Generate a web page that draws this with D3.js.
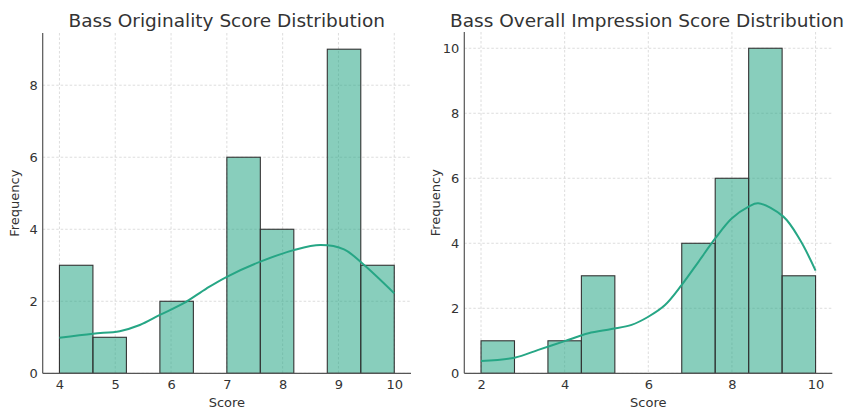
<!DOCTYPE html>
<html>
<head>
<meta charset="utf-8">
<script src="https://cdn.jsdelivr.net/npm/d3@7"></script>
<style>
  body { margin: 0; background: #fff; }
  svg { font-family: "DejaVu Sans", sans-serif; }
  .grid line { stroke: #d4d4d4; stroke-dasharray: 2.5,2; stroke-width: 0.8; }
  .axis text { fill: #333; font-size: 13px; }
  .axis path { stroke: #555; stroke-width: 1.2; }
</style>
</head>
<body>
<svg width="850" height="410"></svg>
<script>
// left panel: originality
var origEdges = [4, 4.6, 5.2, 5.8, 6.4, 7.0, 7.6, 8.2, 8.8, 9.4, 10];
var origCounts = [3, 1, 0, 2, 0, 6, 4, 0, 9, 3];
var origKdeX = [4.0, 4.6, 5.08, 5.44, 5.8, 6.22, 6.64, 7.0, 7.6, 8.2, 8.68, 9.1, 9.45, 10.0];
var origKdeY = [0.99, 1.1, 1.17, 1.34, 1.62, 1.94, 2.36, 2.68, 3.1, 3.42, 3.56, 3.44, 3.02, 2.22];
var origXTicks = [4, 5, 6, 7, 8, 9, 10];
var origYTicks = [0, 2, 4, 6, 8];

// right panel: overall impression
var overEdges = [2, 2.8, 3.6, 4.4, 5.2, 6.0, 6.8, 7.6, 8.4, 9.2, 10];
var overCounts = [1, 0, 1, 3, 0, 0, 4, 6, 10, 3];
var overKdeX = [2.0, 2.8, 3.37, 4.0, 4.57, 5.12, 5.6, 6.0, 6.4, 6.8, 7.2, 7.6, 8.0, 8.4, 8.63, 9.23, 9.63, 10.0];
var overKdeY = [0.38, 0.48, 0.72, 0.99, 1.23, 1.36, 1.49, 1.74, 2.1, 2.72, 3.43, 4.15, 4.77, 5.13, 5.23, 4.82, 4.1, 3.16];
var overXTicks = [2, 4, 6, 8, 10];
var overYTicks = [0, 2, 4, 6, 8, 10];

var svg = d3.select("svg");
var baseColor = "rgb(38,166,133)";

function drawPanel(opt) {
  var x = d3.scaleLinear().domain(opt.xDomain).range([opt.left, opt.right]);
  var y = d3.scaleLinear().domain(opt.yDomain).range([opt.bottom, opt.top]);
  var g = svg.append("g");

  // grid
  var grid = g.append("g").attr("class", "grid");
  grid.selectAll(".gx").data(opt.xTicks).enter().append("line")
    .attr("x1", d => x(d)).attr("x2", d => x(d))
    .attr("y1", opt.top).attr("y2", opt.bottom);
  grid.selectAll(".gy").data(opt.yTicks).enter().append("line")
    .attr("x1", opt.left).attr("x2", opt.right)
    .attr("y1", d => y(d)).attr("y2", d => y(d));

  // bars
  var bins = opt.counts.map(function (c, i) {
    return { x0: opt.edges[i], x1: opt.edges[i + 1], n: c };
  }).filter(d => d.n > 0);
  g.append("g").selectAll("rect").data(bins).enter().append("rect")
    .attr("x", d => x(d.x0))
    .attr("width", d => x(d.x1) - x(d.x0))
    .attr("y", d => y(d.n))
    .attr("height", d => y(0) - y(d.n))
    .attr("fill", baseColor).attr("fill-opacity", 0.55)
    .attr("stroke", "#333").attr("stroke-width", 1.1);

  // kde line
  var pts = opt.kdeX.map((v, i) => [v, opt.kdeY[i]]);
  g.append("path").datum(pts)
    .attr("fill", "none").attr("stroke", baseColor).attr("stroke-width", 2)
    .attr("d", d3.line().x(d => x(d[0])).y(d => y(d[1])).curve(d3.curveCatmullRom));

  // axes
  var xa = g.append("g").attr("class", "axis")
    .attr("transform", "translate(0," + opt.bottom + ")")
    .call(d3.axisBottom(x).tickValues(opt.xTicks).tickFormat(d3.format("d")).tickSize(0).tickPadding(6));
  xa.select(".domain").attr("d", "M" + opt.left + ",0H" + opt.right);
  var ya = g.append("g").attr("class", "axis")
    .attr("transform", "translate(" + opt.left + ",0)")
    .call(d3.axisLeft(y).tickValues(opt.yTicks).tickFormat(d3.format("d")).tickSize(0).tickPadding(5));
  ya.select(".domain").attr("d", "M0," + opt.top + "V" + opt.bottom);
  g.selectAll(".axis text").attr("font-family", "DejaVu Sans, sans-serif");

  // labels
  g.append("text").attr("x", opt.titleX).attr("y", 27)
    .attr("text-anchor", "middle").attr("font-size", 18.5).attr("fill", "#333")
    .text(opt.title);
  g.append("text").attr("x", (opt.left + opt.right) / 2).attr("y", 407)
    .attr("text-anchor", "middle").attr("font-size", 13).attr("fill", "#333")
    .text("Score");
  g.append("text")
    .attr("transform", "translate(" + (opt.left - 24) + "," + ((opt.top + opt.bottom) / 2) + ") rotate(-90)")
    .attr("text-anchor", "middle").attr("font-size", 13).attr("fill", "#333")
    .text("Frequency");
}

drawPanel({
  title: "Bass Originality Score Distribution",
  edges: origEdges, counts: origCounts, kdeX: origKdeX, kdeY: origKdeY,
  xTicks: origXTicks, yTicks: origYTicks,
  xDomain: [3.7, 10.3], yDomain: [0, 9.45],
  left: 42.7, right: 411, top: 33, bottom: 373.3, titleX: 226.8
});

drawPanel({
  title: "Bass Overall Impression Score Distribution",
  edges: overEdges, counts: overCounts, kdeX: overKdeX, kdeY: overKdeY,
  xTicks: overXTicks, yTicks: overYTicks,
  xDomain: [1.6, 10.4], yDomain: [0, 10.5],
  left: 464.3, right: 832.3, top: 32, bottom: 373.3, titleX: 647
});
</script>
</body>
</html>
